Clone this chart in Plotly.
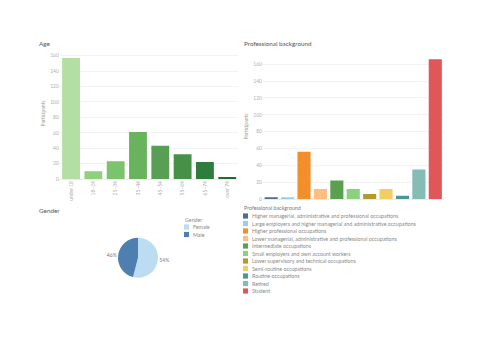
import plotly.graph_objects as go

W, H = 500, 354
FONT = "Lato"

def fx(x):
    return x / W

def fy(y):
    return 1 - y / H

# ---------------- data ----------------
age_groups = ["under 18", "18–24", "25–34", "35–44", "45–54", "55–64", "65–74", "over 74"]
age_counts = [157, 10, 23, 61, 43, 32, 22, 2]
age_colors = ["#b3dfa4", "#8fd07e", "#7cc36d", "#69b25e", "#589f53", "#479047", "#2f7d3c", "#216b31"]

prof_categories = [
    "Higher managerial, administrative and professional occupations",
    "Large employers and higher managerial and administrative occupations",
    "Higher professional occupations",
    "Lower managerial, administrative and professional occupations",
    "Intermediate occupations",
    "Small employers and own account workers",
    "Lower supervisory and technical occupations",
    "Semi-routine occupations",
    "Routine occupations",
    "Retired",
    "Student",
]
prof_counts = [2, 2, 56, 12, 22, 12, 6, 12, 4, 35, 166]
prof_colors = ["#4a6e9c", "#a0cbe8", "#f28e2b", "#ffbe7d", "#59a14f", "#8cd17d",
               "#b6992d", "#f1ce63", "#499894", "#86bcb6", "#e15759"]

gender_labels = ["Female", "Male"]
gender_share = [54, 46]
gender_colors = ["#bcdcf2", "#4f7fb0"]

# ---------------- figure ----------------
fig = go.Figure()

fig.add_trace(go.Bar(x=age_groups, y=age_counts, marker_color=age_colors,
                     marker_line_width=0, xaxis="x", yaxis="y", showlegend=False,
                     hoverinfo="x+y"))

for cat, val, col in zip(prof_categories, prof_counts, prof_colors):
    fig.add_trace(go.Bar(x=[cat], y=[val], marker_color=col, marker_line_width=0,
                         name=cat, xaxis="x2", yaxis="y2", showlegend=False))

# pie: center (138, 257.7), radius 20 px
cx, cy, r = 138, 257.7, 20
fig.add_trace(go.Pie(labels=gender_labels, values=gender_share,
                     marker=dict(colors=gender_colors, line=dict(width=0)),
                     sort=False, direction="clockwise", rotation=0,
                     textinfo="percent", textposition="outside",
                     texttemplate="%{percent:.0%}",
                     textfont=dict(size=5, color="#777", family=FONT),
                     domain=dict(x=[fx(cx - r), fx(cx + r)], y=[fy(cy + r), fy(cy - r)]),
                     showlegend=False))

tick_font = dict(size=5, color="#b0b0b0", family=FONT)
title_font = dict(size=5, color="#a0a0a0", family=FONT)

fig.update_layout(
    width=W, height=H, margin=dict(l=0, r=0, t=0, b=0),
    template="none", paper_bgcolor="white", plot_bgcolor="white",
    barmode="overlay", bargap=0.2, showlegend=False,
    font=dict(family=FONT),
    xaxis=dict(domain=[fx(59.9), fx(238.4)], type="category", tickangle=-90,
               tickfont=tick_font, showgrid=False, showline=False, ticks="",
               automargin=False, anchor="y"),
    yaxis=dict(domain=[fy(179), fy(48)], range=[0, 170], dtick=20, tickfont=tick_font,
               gridcolor="#f3f3f3", gridwidth=0.6, zeroline=True, zerolinecolor="#ebebeb",
               zerolinewidth=0.6, showline=False, ticks="", automargin=False,
               title=dict(text="Participants", font=title_font, standoff=4), anchor="x"),
    xaxis2=dict(domain=[fx(263), fx(443.5)], type="category", showticklabels=False,
                showgrid=False, showline=False, ticks="", automargin=False, anchor="y2"),
    yaxis2=dict(domain=[fy(199), fy(54.2)], range=[0, 172], dtick=20, tickfont=tick_font,
                gridcolor="#f3f3f3", gridwidth=0.6, zeroline=True, zerolinecolor="#ebebeb",
                zerolinewidth=0.6, showline=False, ticks="", automargin=False,
                title=dict(text="Participants", font=title_font, standoff=4), anchor="x2"),
)

annotations = []
shapes = []

def text(x, y, s, size=5.5, color="#777777", xanchor="left"):
    annotations.append(dict(x=fx(x), y=fy(y), xref="paper", yref="paper", text=s,
                            showarrow=False, xanchor=xanchor, yanchor="middle",
                            font=dict(size=size, color=color, family=FONT)))

# chart titles
text(36.5, 44, "Age", size=6.3, color="#555555")
text(242, 44, "Professional background", size=6.3, color="#555555")
text(36.5, 210, "Gender", size=6.3, color="#555555")

# professional legend
text(242, 208, "Professional background", size=5.3, color="#7a7a7a")
for i, (cat, col) in enumerate(zip(prof_categories, prof_colors)):
    yc = 216 + 7.5 * i
    shapes.append(dict(type="rect", xref="paper", yref="paper",
                       x0=fx(243), x1=fx(248), y0=fy(yc + 2.6), y1=fy(yc - 2.6),
                       fillcolor=col, line=dict(width=0)))
    text(250, yc, cat, size=5.3, color="#8a8a8a")

# gender legend
text(182.5, 219.5, "Gender", size=5.3, color="#8a8a8a")
for i, (lab, col) in enumerate(zip(gender_labels, gender_colors)):
    yc = 227 + 7.5 * i
    shapes.append(dict(type="rect", xref="paper", yref="paper",
                       x0=fx(184), x1=fx(189), y0=fy(yc + 2.6), y1=fy(yc - 2.6),
                       fillcolor=col, line=dict(width=0)))
    text(191, yc, lab, size=5.3, color="#8a8a8a")

fig.update_layout(annotations=annotations, shapes=shapes)

fig.write_html("out.html")
